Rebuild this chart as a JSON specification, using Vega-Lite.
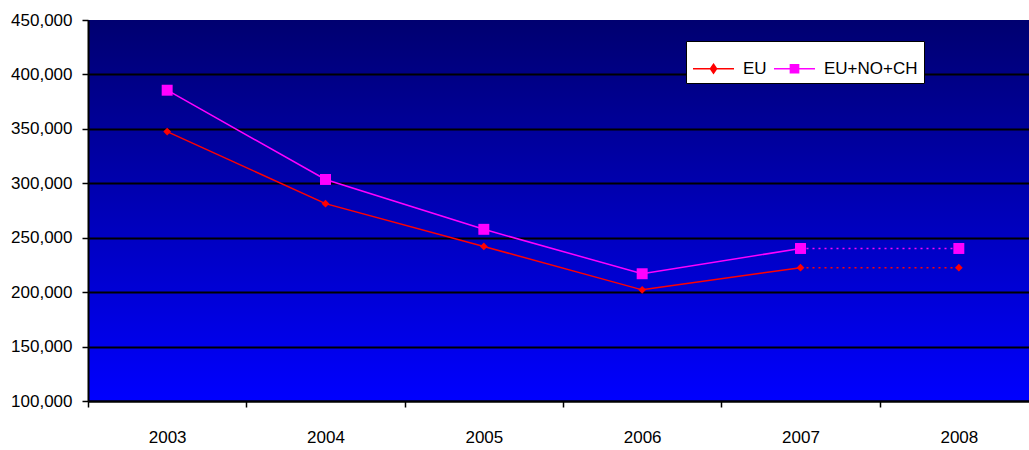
{
  "$schema": "https://vega.github.io/schema/vega-lite/v6.json",
  "width": 941,
  "height": 381,
  "autosize": {"type": "none"},
  "padding": {"left": 88, "top": 20, "right": 0, "bottom": 49},
  "background": "white",
  "config": {
    "view": {
      "fill": {"gradient": "linear", "x1": 0, "y1": 0, "x2": 0, "y2": 1,
        "stops": [{"offset": 0, "color": "#000070"}, {"offset": 1, "color": "#0000FF"}]},
      "stroke": null
    },
    "font": "Liberation Sans"
  },
  "data": {
    "values": [
      {"year": 2003, "series": "EU", "value": 347500},
      {"year": 2004, "series": "EU", "value": 281300},
      {"year": 2005, "series": "EU", "value": 242000},
      {"year": 2006, "series": "EU", "value": 202100},
      {"year": 2007, "series": "EU", "value": 222500},
      {"year": 2008, "series": "EU", "value": 222500},
      {"year": 2003, "series": "EU+NO+CH", "value": 385500},
      {"year": 2004, "series": "EU+NO+CH", "value": 303500},
      {"year": 2005, "series": "EU+NO+CH", "value": 257700},
      {"year": 2006, "series": "EU+NO+CH", "value": 216900},
      {"year": 2007, "series": "EU+NO+CH", "value": 240100},
      {"year": 2008, "series": "EU+NO+CH", "value": 240100}
    ]
  },
  "encoding": {
    "x": {
      "field": "year", "type": "ordinal",
      "scale": {"type": "band", "range": [0, 950], "paddingInner": 0, "paddingOuter": 0},
      "axis": {
        "title": null, "labelAngle": 0, "tickBand": "extent", "grid": false,
        "domainColor": "black", "domainWidth": 2, "tickColor": "black", "tickWidth": 1.5,
        "tickSize": 6, "labelPadding": 22, "labelFontSize": 17, "labelColor": "black"
      }
    },
    "y": {
      "field": "value", "type": "quantitative",
      "scale": {"domain": [100000, 450000], "nice": false, "zero": false},
      "axis": {
        "title": null,
        "values": [100000, 150000, 200000, 250000, 300000, 350000, 400000, 450000],
        "format": ",d", "grid": true, "gridColor": "black", "gridWidth": 2,
        "gridOpacity": {"condition": {"test": "datum.value >= 450000", "value": 0}, "value": 1},
        "domainColor": "black", "domainWidth": 2, "tickColor": "black", "tickWidth": 1.5,
        "tickSize": 6, "labelPadding": 10, "labelFontSize": 17, "labelColor": "black"
      }
    }
  },
  "layer": [
    {
      "transform": [{"filter": "datum.year <= 2007"}],
      "mark": {"type": "line", "strokeWidth": 1.5},
      "encoding": {
        "color": {
          "field": "series", "type": "nominal",
          "scale": {"domain": ["EU", "EU+NO+CH"], "range": ["#FF0000", "#FF00FF"]},
          "legend": {
            "title": null, "orient": "none", "legendX": 598, "legendY": 21,
            "direction": "horizontal", "fillColor": "white", "strokeColor": "black",
            "padding": 6, "labelFontSize": 17, "labelColor": "black",
            "symbolSize": 1681, "symbolStrokeWidth": 1.5, "columnPadding": 4, "labelOffset": 8,
            "encode": {
              "symbols": {
                "update": {
                  "shape": {"signal": "datum.value === 'EU' ? 'M-1,0H1M0,-0.22L0.15,0L0,0.22L-0.15,0Z' : 'M-1,0H1M-0.2,-0.2H0.2V0.2H-0.2Z'"},
                  "size": {"value": 1681},
                  "fill": {"signal": "datum.value === 'EU' ? '#FF0000' : '#FF00FF'"},
                  "stroke": {"signal": "datum.value === 'EU' ? '#FF0000' : '#FF00FF'"},
                  "strokeWidth": {"value": 1.5},
                  "fillOpacity": {"value": 1},
                  "strokeOpacity": {"value": 1}
                }
              }
            }
          }
        }
      }
    },
    {
      "transform": [{"filter": "datum.year >= 2007"}],
      "mark": {"type": "line", "strokeWidth": 1.5, "strokeDash": [2, 4]},
      "encoding": {
        "color": {"field": "series", "type": "nominal"}
      }
    },
    {
      "transform": [{"filter": "datum.series === 'EU'"}],
      "mark": {"type": "point", "filled": true, "opacity": 1, "shape": "diamond", "size": 60, "color": "#FF0000"},
      "encoding": {}
    },
    {
      "transform": [{"filter": "datum.series === 'EU+NO+CH'"}],
      "mark": {"type": "point", "filled": true, "opacity": 1, "shape": "square", "size": 120, "color": "#FF00FF"},
      "encoding": {}
    }
  ]
}
